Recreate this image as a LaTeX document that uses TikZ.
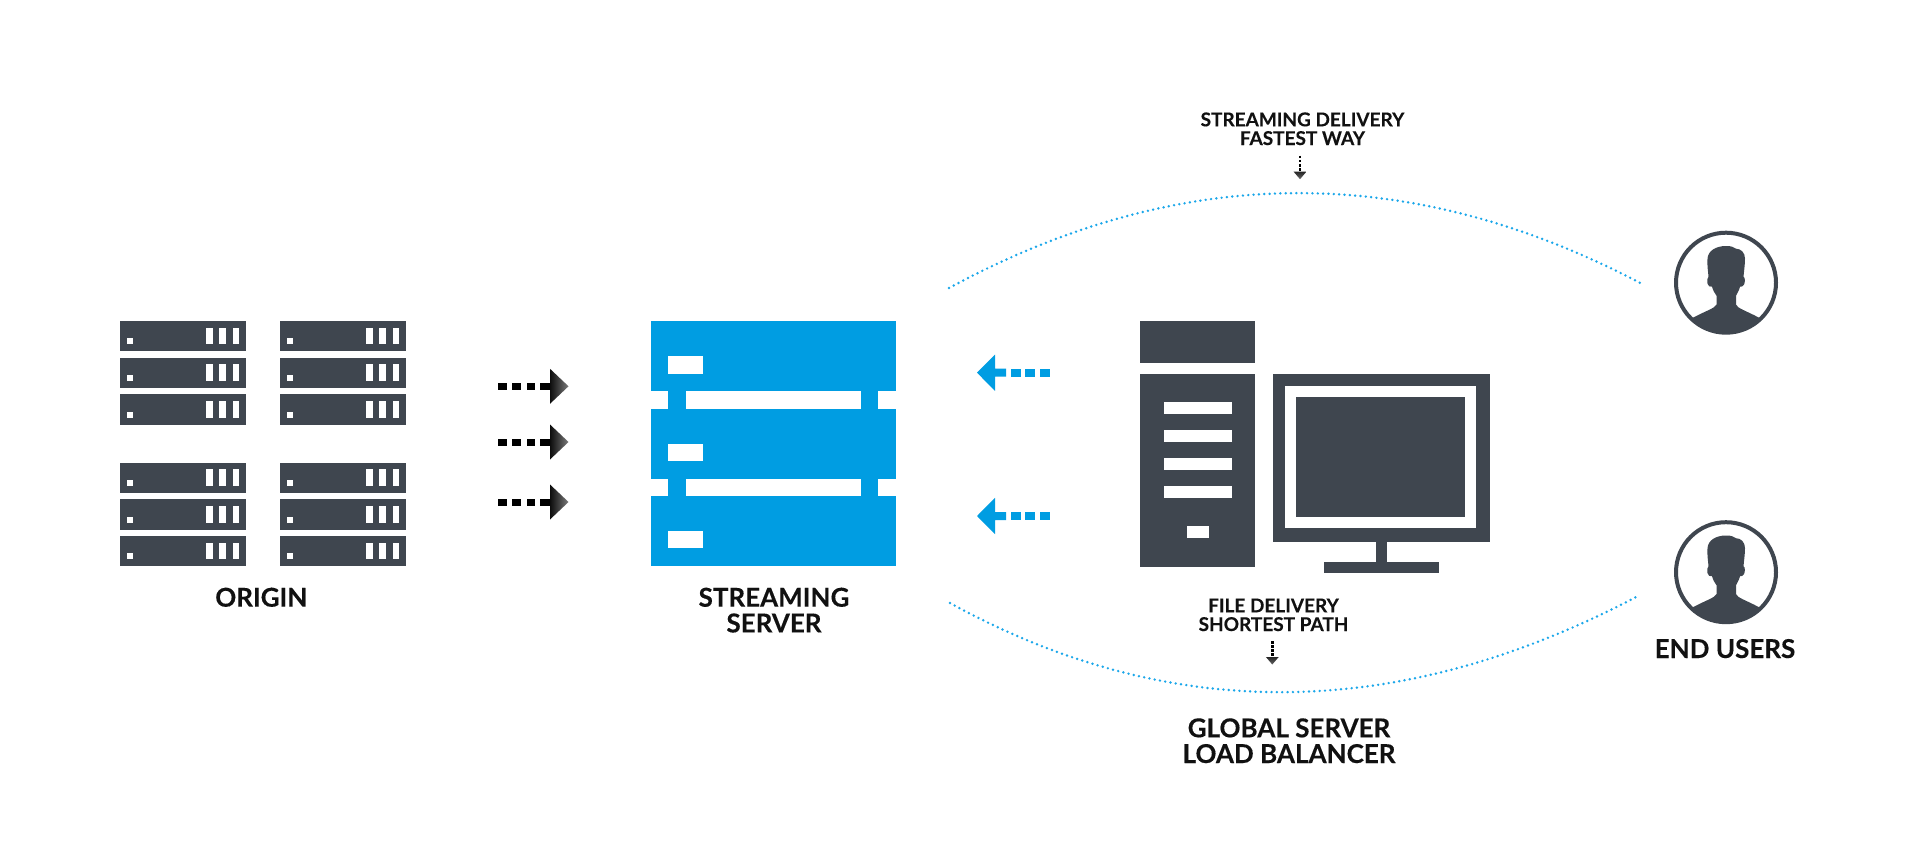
\documentclass[tikz,border=0pt]{standalone}
\usepackage{fontspec}
\setmainfont{Lato}
\definecolor{slate}{HTML}{3F464F}
\definecolor{skyb}{HTML}{009DE2}
\definecolor{doted}{HTML}{1AA7EA}
\definecolor{inky}{HTML}{111111}
\newfontfamily\heavylato[FakeBold=0.25,BoldFont={Lato Bold}]{Lato Bold}
\newfontfamily\heavysmall[FakeBold=0.15,BoldFont={Lato Bold}]{Lato Bold}
\tikzset{
  x=1pt,y=-1pt,
  slatefill/.style={fill=slate,draw=none},
  skyfill/.style={fill=skyb,draw=none},
  holefill/.style={fill=white,draw=none},
  bigtext/.style={inner sep=0pt,align=center,text=inky,font=\heavylato\fontsize{26}{25.7}\selectfont},
  smalltext/.style={inner sep=0pt,align=center,text=inky,font=\heavysmall\fontsize{19}{18.7}\selectfont},
  dotline/.style={draw=doted,line width=2.7pt,line cap=round,dash pattern=on 0pt off 5.35pt},
  rackunit/.pic={
    \fill[slatefill] (0,0) rectangle (126.3,30.3);
    \fill[holefill] (6.7,17.3) rectangle (12.7,23.3);
    \fill[holefill] (86,6.7) rectangle (92.7,23.3);
    \fill[holefill] (99.3,6.7) rectangle (106,23.3);
    \fill[holefill] (112.7,6.7) rectangle (119.3,23.3);
  },
  blackarrow/.pic={
    \fill[black] (498.3,-3.5) rectangle (507.3,3.5);
    \fill[black] (512.3,-3.5) rectangle (521.3,3.5);
    \fill[black] (526.7,-3.5) rectangle (535.3,3.5);
    \fill[black] (540,-3.5) rectangle (551,3.5);
    \shade[left color=black!95,right color=black!52] (550,-17.5) -- (568.5,0) -- (550,17.5) -- cycle;
  },
  bluearrow/.pic={
    \fill[skyfill] (977,0) -- (995,-18.2) -- (995,-4) -- (1006,-4) -- (1006,4) -- (995,4) -- (995,18.2) -- cycle;
    \fill[skyfill] (1010.7,-4) rectangle (1020.7,4);
    \fill[skyfill] (1025.3,-4) rectangle (1035.3,4);
    \fill[skyfill] (1040,-4) rectangle (1049.5,4);
  },
  tinyarrow/.pic={
    \draw[black,line width=2.4pt,dash pattern=on 2.6pt off 1.5pt] (0,0) -- (0,16);
    \shade[top color=black!85,bottom color=black!60] (-6.4,16) -- (6.4,16) -- (0,23.5) -- cycle;
  },
  enduser/.pic={
    \begin{scope}
      \clip (0,0) circle (50pt);
      \fill[slatefill] (0,-36.7)
        .. controls (5,-36.7) and (7,-36) .. (10,-34)
        .. controls (15,-34) and (19,-30) .. (19,-24)
        .. controls (19,-18) and (18,-12) .. (17.5,-6)
        .. controls (19.5,-5) and (19,0) .. (18,2)
        .. controls (17,4) and (15,4) .. (14,4)
        .. controls (13,8) and (11,11) .. (10,13)
        -- (10,22)
        .. controls (12,26) and (20,28) .. (33,35)
        -- (60,60) -- (-60,60) -- (-33,35)
        .. controls (-20,28) and (-12,26) .. (-9.5,22)
        -- (-9.5,13)
        .. controls (-11,11) and (-13,8) .. (-14,4)
        .. controls (-16,4) and (-18,4) .. (-18.5,1)
        .. controls (-19,-2) and (-19,-5) .. (-17.5,-6)
        .. controls (-18,-12) and (-19,-18) .. (-18.5,-24)
        .. controls (-18,-32) and (-10,-36.7) .. (0,-36.7) -- cycle;
    \end{scope}
    \draw[slate,line width=4pt] (0,0) circle (50pt);
  }
}
\begin{document}
\begin{tikzpicture}
\useasboundingbox (0,0) rectangle (1920,867);
\fill[white] (0,0) rectangle (1920,867);

% origin racks
\foreach \cx in {120,280}
  \foreach \cy in {321,357.7,394.3,462.7,499.3,536}
    \pic at (\cx,\cy) {rackunit};

% black arrows
\foreach \ay in {386.3,442,502}
  \pic at (0,\ay) {blackarrow};

% streaming server
\fill[skyfill] (650.7,321.3) rectangle (895.7,566);
\foreach \ny in {391.3,478.7}{
  \fill[holefill] (650.7,\ny) rectangle (668.3,\ny+17.4);
  \fill[holefill] (685.7,\ny) rectangle (860.7,\ny+17.4);
  \fill[holefill] (878,\ny) rectangle (895.7,\ny+17.4);
}
\foreach \ny in {356.3,443.7,531}
  \fill[holefill] (668.3,\ny) rectangle (703.3,\ny+17.4);

% blue arrows
\foreach \ay in {372.7,516}
  \pic at (0,\ay) {bluearrow};

% tower
\fill[slatefill] (1140,321.3) rectangle (1255,363);
\fill[slatefill] (1140,373.7) rectangle (1255,567.3);
\foreach \by in {402.3,430.3,458.3,486.3}
  \fill[holefill] (1163.7,\by) rectangle (1232,\by+11.7);
\fill[holefill] (1187,526) rectangle (1208.7,538);

% monitor
\fill[slatefill] (1273,373.7) rectangle (1489.7,542.3);
\fill[holefill] (1285,386) rectangle (1476.3,528);
\fill[slatefill] (1295.7,396.7) rectangle (1465.3,517);
\fill[slatefill] (1376,542) rectangle (1387,563);
\fill[slatefill] (1324.3,562) rectangle (1438.7,573);

% dotted arcs
\coordinate (topL) at (949,288);
\coordinate (topR) at (1644,285);
\coordinate (botL) at (950,603);
\coordinate (botR) at (1638,596);
\path[dotline] (topL) .. controls (1180,163) and (1410,161) .. (topR);
\path[dotline] (botL) .. controls (1170,724) and (1399,722) .. (botR);

% small arrows
\pic at (1300,155.7) {tinyarrow};
\pic at (1272.3,641) {tinyarrow};

% users
\pic at (1726,282.7) {enduser};
\pic at (1726,572.2) {enduser};

% labels
\node[bigtext,anchor=base] (origin) at (261.3,606.7) {ORIGIN};
\node[bigtext,anchor=base] (streaming) at (774,632.4) {STREAMING\\SERVER};
\node[bigtext,anchor=base] (endusers) at (1725,658) {END USERS};
\node[bigtext,anchor=base] (gslb) at (1289,763) {GLOBAL SERVER\\LOAD BALANCER};
\node[smalltext,anchor=base] (fast) at (1302.5,145) {STREAMING DELIVERY\\FASTEST WAY};
\node[smalltext,anchor=base] (short) at (1273.5,631) {FILE DELIVERY\\SHORTEST PATH};
\end{tikzpicture}
\end{document}
